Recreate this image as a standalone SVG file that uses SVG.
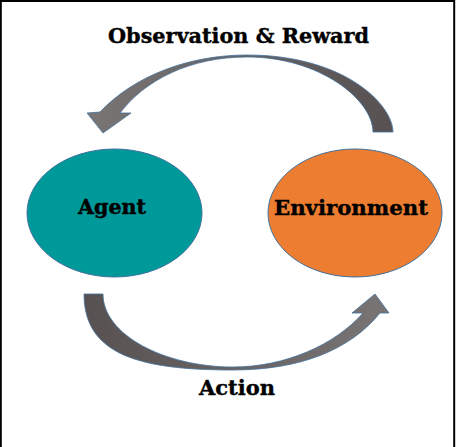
<svg xmlns="http://www.w3.org/2000/svg" width="456" height="447" viewBox="0 0 456 447">
<defs>
<style>
.lbl{font-family:"DejaVu Serif","Liberation Serif",serif;font-weight:bold;font-size:21px;fill:#000;stroke:#000;stroke-width:0.4}
.node{stroke:#41719C;stroke-width:1}
.arr{stroke:#41719C;stroke-width:0.8}
</style>
<linearGradient id="gTop" x1="0" y1="0" x2="1" y2="0">
<stop offset="0" stop-color="#7a7575"/>
<stop offset="1" stop-color="#575151"/>
</linearGradient>
<linearGradient id="gBot" x1="0" y1="0" x2="1" y2="0">
<stop offset="0" stop-color="#575151"/>
<stop offset="1" stop-color="#7a7575"/>
</linearGradient>
</defs>
<rect x="0.8" y="1" width="453.4" height="470" fill="#fff" stroke="#000" stroke-width="2"/>
<g id="connectors">
<path class="arr" fill="url(#gTop)" d="M393,132 C393,105 345,55 247,55 C190,55 135,75 100,112 L87,113 L103,133 L131,113 L120,113 C145,80 190,57 247,57 C320,57 373,100 373,132 Z"/>
<path class="arr" fill="url(#gBot)" d="M84,294 L103,294 C103,335 165,367 233,367 C285,367 335,345 363,313 L352,313 L375,294 L389,313 L380,313 C350,350 300,370 233,370 C140,370 84,355 84,294 Z"/>
<text class="lbl" x="108" y="43" textLength="261" lengthAdjust="spacingAndGlyphs">Observation &amp; Reward</text>
<text class="lbl" x="199" y="395" textLength="76" lengthAdjust="spacingAndGlyphs">Action</text>
</g>
<g id="agent">
<ellipse class="node" cx="114.5" cy="213" rx="87.5" ry="64" fill="#009999"/>
<text class="lbl" x="78" y="214" textLength="68" lengthAdjust="spacingAndGlyphs">Agent</text>
</g>
<g id="environment">
<ellipse class="node" cx="355" cy="213" rx="87" ry="64" fill="#ED7D31"/>
<text class="lbl" x="274" y="215" textLength="154" lengthAdjust="spacingAndGlyphs">Environment</text>
</g>
</svg>
